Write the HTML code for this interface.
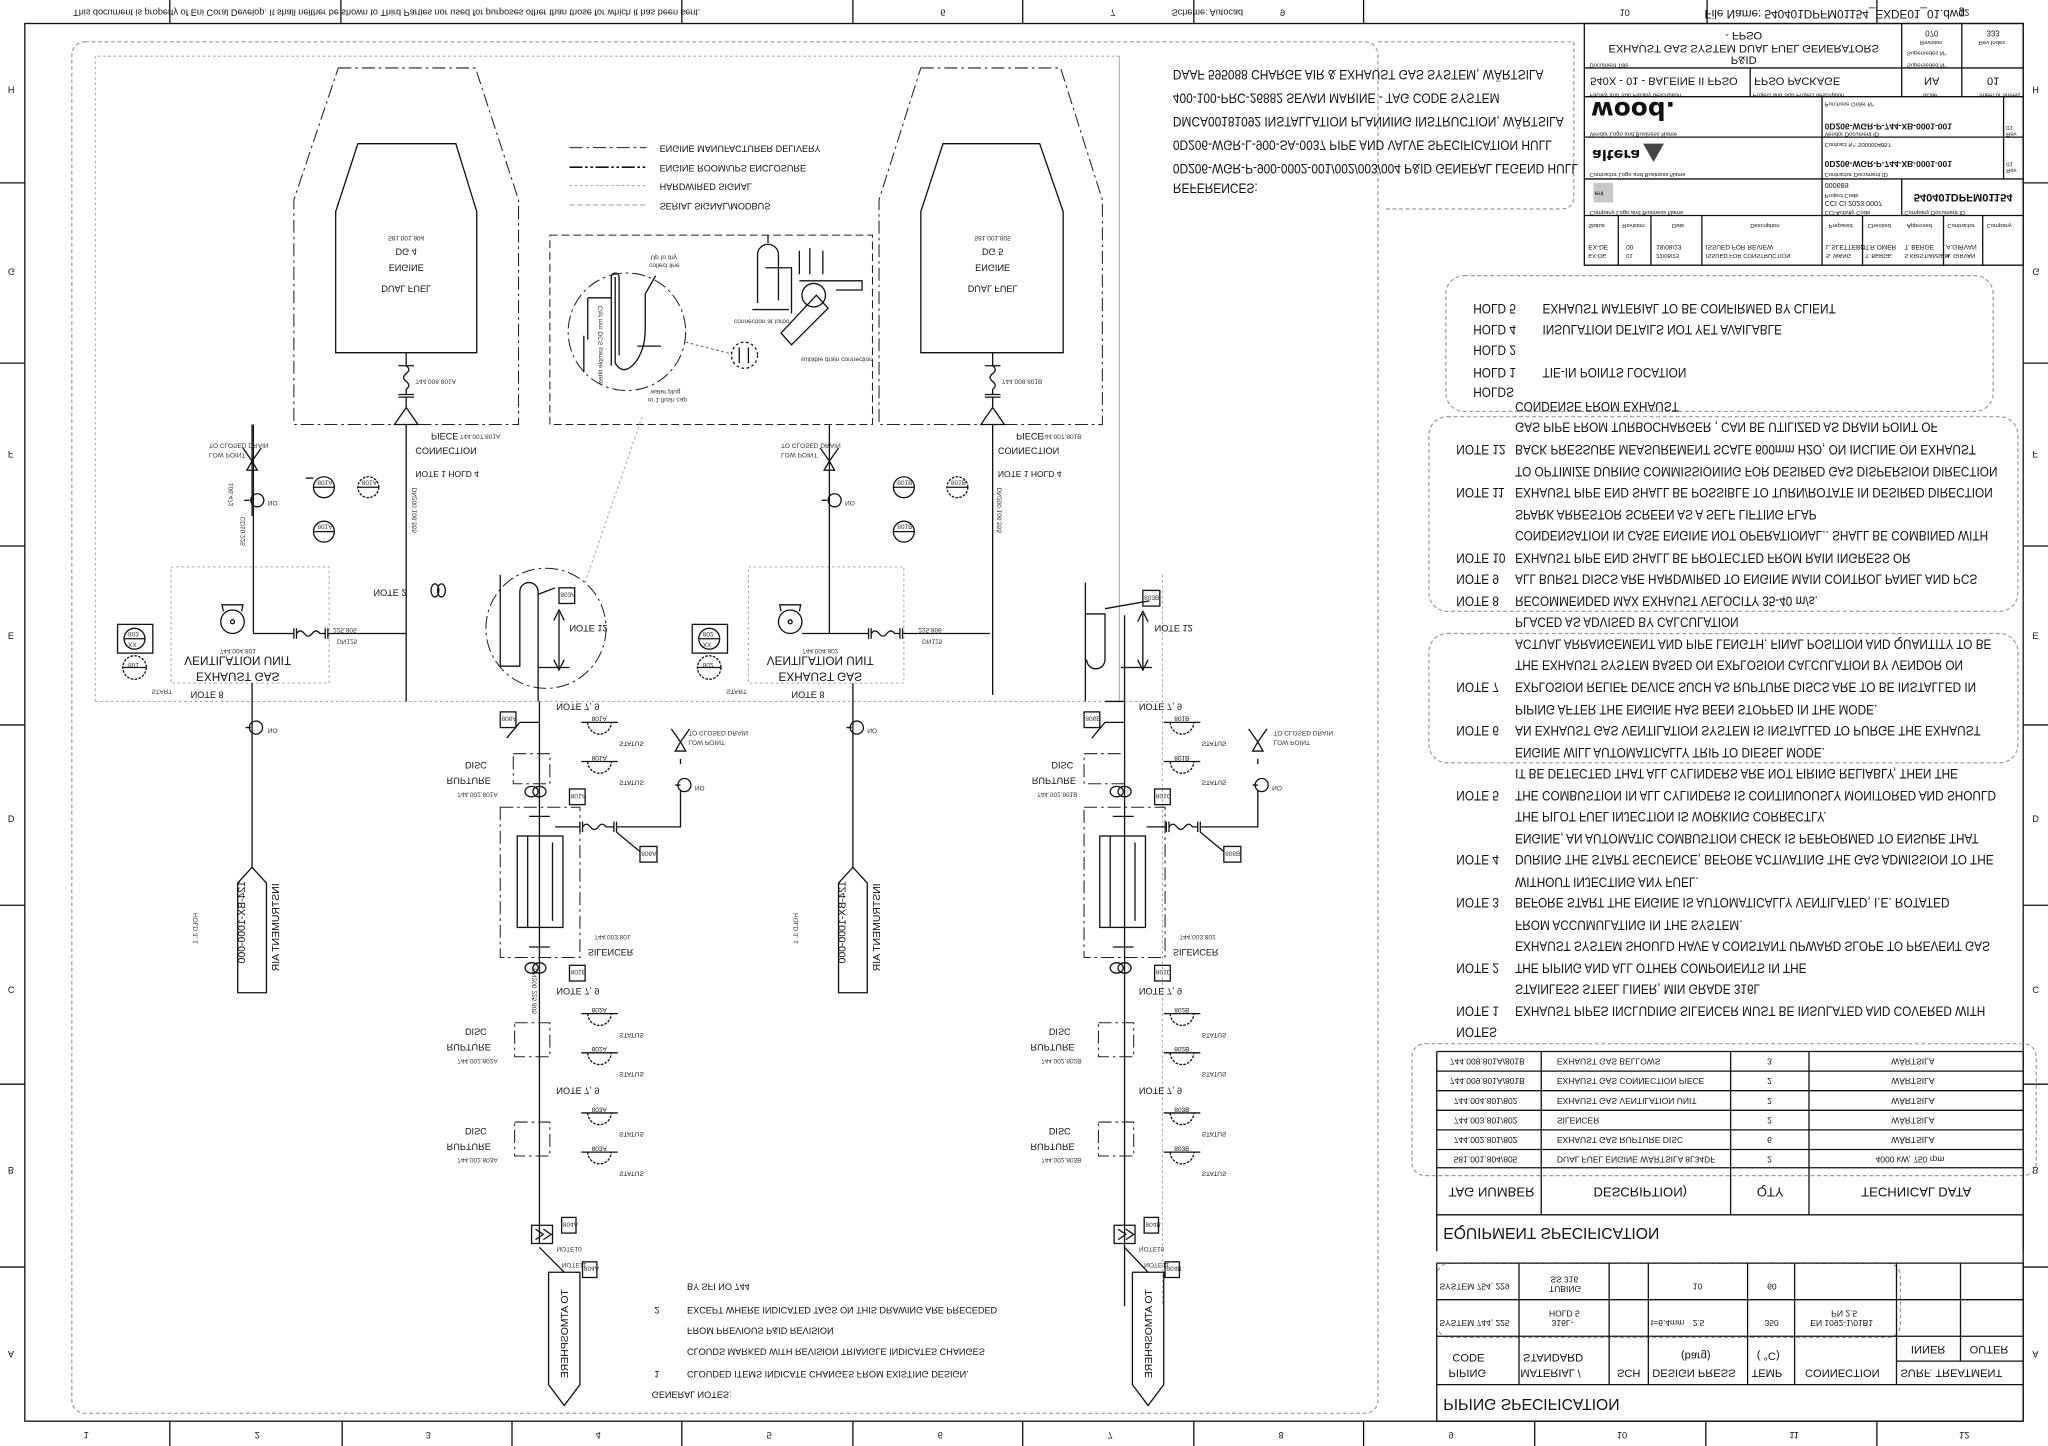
<!DOCTYPE html>
<html><head><meta charset="utf-8">
<style>
html,body{margin:0;padding:0;background:#fff;}
svg{display:block;}
text{font-family:"Liberation Sans",Arial,sans-serif;fill:#111;}
.f{transform-box:fill-box;transform-origin:center;transform:scaleY(-1);}
.fn{transform-box:fill-box;transform-origin:0% 50%;transform:scale(0.86,-1);}
.fr{transform-box:fill-box;transform-origin:0% 50%;transform:scale(0.87,-1);}
.v{transform-box:fill-box;transform-origin:center;transform:rotate(90deg) scaleY(-1);}
.n{font-size:10.5px;}
.s{font-size:5px;fill:#333;}
.m{font-size:7px;}
.l{stroke:#111;stroke-width:1;fill:none;}
.d{stroke:#222;stroke-width:0.8;fill:none;stroke-dasharray:6 3;}
.dd{stroke:#222;stroke-width:0.8;fill:none;stroke-dasharray:10 3 2 3;}
.g{stroke:#aaa;stroke-width:0.8;fill:none;stroke-dasharray:2 2;}
.c{stroke:#999;stroke-width:0.9;fill:none;stroke-dasharray:3 2;}
</style></head><body>
<svg width="2048" height="1446" viewBox="0 0 1568 1107" preserveAspectRatio="none" xmlns="http://www.w3.org/2000/svg">
<rect width="1568" height="1107" fill="#fff"/>
<!-- frame -->
<rect x="19" y="18" width="1530" height="1070" class="l"/>
<g class="l">
<line x1="130" y1="0" x2="130" y2="18"/><line x1="261" y1="0" x2="261" y2="18"/><line x1="522" y1="0" x2="522" y2="18"/><line x1="653" y1="0" x2="653" y2="18"/><line x1="783" y1="0" x2="783" y2="18"/><line x1="914" y1="0" x2="914" y2="18"/><line x1="1044" y1="0" x2="1044" y2="18"/><line x1="1307" y1="0" x2="1307" y2="18"/><line x1="1437" y1="0" x2="1437" y2="18"/>
<line x1="130" y1="1088" x2="130" y2="1107"/><line x1="262" y1="1088" x2="262" y2="1107"/><line x1="392" y1="1088" x2="392" y2="1107"/><line x1="522" y1="1088" x2="522" y2="1107"/><line x1="653" y1="1088" x2="653" y2="1107"/><line x1="783" y1="1088" x2="783" y2="1107"/><line x1="914" y1="1088" x2="914" y2="1107"/><line x1="1044" y1="1088" x2="1044" y2="1107"/><line x1="1175" y1="1088" x2="1175" y2="1107"/><line x1="1306" y1="1088" x2="1306" y2="1107"/><line x1="1437" y1="1088" x2="1437" y2="1107"/>
<line x1="1549" y1="140" x2="1568" y2="140"/><line x1="1549" y1="278" x2="1568" y2="278"/><line x1="1549" y1="418" x2="1568" y2="418"/><line x1="1549" y1="555" x2="1568" y2="555"/><line x1="1549" y1="693" x2="1568" y2="693"/><line x1="1549" y1="830" x2="1568" y2="830"/><line x1="1549" y1="970" x2="1568" y2="970"/>
<line x1="0" y1="140" x2="19" y2="140"/><line x1="0" y1="278" x2="19" y2="278"/><line x1="0" y1="418" x2="19" y2="418"/><line x1="0" y1="555" x2="19" y2="555"/><line x1="0" y1="693" x2="19" y2="693"/><line x1="0" y1="830" x2="19" y2="830"/><line x1="0" y1="970" x2="19" y2="970"/>
</g>
<text class="f m" x="56" y="12">This document is property of Eni Coral Develop. It shall neither be shown to Third Parties nor used for purposes other than those for which it has been sent.</text>
<text class="f m" x="720" y="12">6</text><text class="f m" x="850" y="12">7</text><text class="f m" x="897" y="12">Scheme: Autocad</text><text class="f m" x="980" y="12">9</text><text class="f m" x="1240" y="12">10</text>
<text class="f" x="1305" y="13" font-size="9">File Name: 540401DPFM01154_EXDE01_01.dwg</text><text class="f m" x="1500" y="12">12</text>
<g class="m">
<text class="f" x="64" y="1101">1</text><text class="f" x="195" y="1101">2</text><text class="f" x="326" y="1101">3</text><text class="f" x="456" y="1101">4</text><text class="f" x="587" y="1101">5</text><text class="f" x="718" y="1101">6</text><text class="f" x="848" y="1101">7</text><text class="f" x="979" y="1101">8</text><text class="f" x="1109" y="1101">9</text><text class="f" x="1238" y="1101">10</text><text class="f" x="1370" y="1101">11</text><text class="f" x="1500" y="1101">12</text>
<text class="f" x="1556" y="71">H</text><text class="f" x="1556" y="210">G</text><text class="f" x="1556" y="350">F</text><text class="f" x="1556" y="489">E</text><text class="f" x="1556" y="629">D</text><text class="f" x="1556" y="760">C</text><text class="f" x="1556" y="898">B</text><text class="f" x="1556" y="1039">A</text>
<text class="f" x="6" y="71">H</text><text class="f" x="6" y="210">G</text><text class="f" x="6" y="350">F</text><text class="f" x="6" y="489">E</text><text class="f" x="6" y="629">D</text><text class="f" x="6" y="760">C</text><text class="f" x="6" y="898">B</text><text class="f" x="6" y="1039">A</text>
</g>

<!-- diagram clouds / enclosures -->
<rect x="55" y="32" width="1000" height="1050" rx="10" class="c"/>
<path d="M1055 32 H1205 V150 Q1205 160 1195 160 H1060" class="c"/>
<path d="M73 537 V43 H857 V537 M73 537 H890" class="g"/>
<line x1="857" y1="43" x2="857" y2="537" class="g"/>
<line x1="890" y1="440" x2="890" y2="1000" class="g"/>

<!-- legend -->
<line x1="436" y1="113" x2="495" y2="113" class="dd"/>
<line x1="436" y1="128" x2="495" y2="128" stroke="#111" stroke-width="1.2" stroke-dasharray="10 2 2 2 2 2"/>
<line x1="436" y1="142" x2="495" y2="142" stroke="#aaa" stroke-width="0.8" stroke-dasharray="2 2"/>
<line x1="436" y1="157" x2="495" y2="157" stroke="#aaa" stroke-width="0.8" stroke-dasharray="4 2"/>
<g class="m"><text class="f" x="505" y="116">ENGINE MANUFACTURER DELIVERY</text><text class="f" x="505" y="131">ENGINE ROOM/UPS ENCLOSURE</text><text class="f" x="505" y="145">HARDWIRED SIGNAL</text><text class="f" x="505" y="160">SERIAL SIGNAL/MODBUS</text></g>

<!-- references -->
<g class="n" font-size="9.5"><text class="fr" x="898" y="61">DAAF 595088 CHARGE AIR &amp; EXHAUST GAS SYSTEM, WÄRTSILA</text>
<text class="fr" x="898" y="79">400-100-PRC-26882 SEVAN MARINE - TAG CODE SYSTEM</text>
<text class="fr" x="898" y="97">DMCA00181092 INSTALLATION PLANNING INSTRUCTION, WÄRTSILA</text>
<text class="fr" x="898" y="115">0D206-WGR-L-900-SA-0037 PIPE AND VALVE SPECIFICATION HULL</text>
<text class="fr" x="898" y="133">0D206-WGR-P-900-0002-001/002/003/004 P&amp;ID GENERAL LEGEND HULL</text>
<text class="fr" x="898" y="148">REFERENCES:</text></g>

<!-- DG4 engine -->
<path d="M259 52 H364 L397 153 V325 H225 V153 Z" class="dd"/>
<path d="M274 110 H349 L365 162 V270 H257 V162 Z" class="l"/>
<g class="m" text-anchor="middle" font-size="8.5"><text class="f" x="311" y="223">DUAL FUEL</text><text class="f" x="311" y="207">ENGINE</text><text class="f" x="311" y="195">DG 4</text></g>
<text class="f s" x="311" y="183" text-anchor="middle" font-size="5.5">581.001.804</text>
<path d="M311 270 V280 M305 280 H317 M311 280 q4 3 0 6 q-4 3 0 6 q4 3 0 6 V302 M305 302 H317 M305 304 H317 M311 304 V312 M311 312 L302 325 H320 Z M311 325 V537" class="l"/>
<text class="f s" x="318" y="293" font-size="5.5">744.008.801A</text>
<g class="m"><text class="f" x="330" y="336">PIECE</text><text class="f" x="318" y="347">CONNECTION</text><text class="f s" x="352" y="335" font-size="5.5">744.007.801A</text><text class="f" x="318" y="365" font-size="6.5">NOTE 1   HOLD 4</text></g>
<text class="v s" x="300" y="392" font-size="5.5">DN200 106.555</text>

<!-- DG5 engine -->
<path d="M705 52 H812 L844 153 V325 H673 V153 Z" class="dd"/>
<path d="M722 110 H796 L814 162 V270 H705 V162 Z" class="l"/>
<g class="m" text-anchor="middle" font-size="8.5"><text class="f" x="760" y="223">DUAL FUEL</text><text class="f" x="760" y="207">ENGINE</text><text class="f" x="760" y="195">DG 5</text></g>
<text class="f s" x="760" y="183" text-anchor="middle" font-size="5.5">581.001.805</text>
<path d="M760 270 V280 M754 280 H766 M760 280 q4 3 0 6 q-4 3 0 6 q4 3 0 6 V302 M754 302 H766 M754 304 H766 M760 304 V312 M760 312 L751 325 H769 Z M760 325 V532" class="l"/>
<text class="f s" x="767" y="293" font-size="5.5">744.008.801B</text>
<g class="m"><text class="f" x="778" y="336">PIECE</text><text class="f" x="764" y="347">CONNECTION</text><text class="f s" x="797" y="335" font-size="5.5">744.007.801B</text><text class="f" x="764" y="365" font-size="6.5">NOTE 1   HOLD 4</text></g>
<text class="v s" x="748" y="392" font-size="5.5">DN200 106.555</text>

<!-- detail box -->
<rect x="421" y="180" width="247" height="145" class="d"/>
<circle cx="480" cy="254" r="45" class="dd" stroke-width="0.6"/>
<path d="M468 280 V212 a3 3 0 0 1 6 0 V272 M471 212 V278 q6 10 15 0 q8 -10 8 -26 V225 l8 -14" class="l" stroke-width="1.2"/>
<path d="M450 228 H468 M450 228 V260 M447 257 V285 M488 265 H506" class="l" stroke-width="0.6"/>
<text class="v s" x="430" y="265" font-size="4.5">C/sf mm DCS sample tilted</text>
<text class="f s" x="498" y="198" font-size="4.5">Up to dry</text><text class="f s" x="497" y="204" font-size="4.5">collect line</text>
<text class="f s" x="498" y="301" font-size="4.5">water plug</text><text class="f s" x="496" y="307" font-size="4.5">or 1 flush cap</text>
<line x1="525" y1="262" x2="560" y2="271" stroke="#333" stroke-width="0.6" stroke-dasharray="2 2"/>
<circle cx="570" cy="272" r="10" class="l" stroke-width="0.6" stroke-dasharray="2 2"/>
<path d="M566 266 V278 M573 266 V278" class="l" stroke-width="0.8"/>
<path d="M580 232 V195 a8 8 0 0 1 16 0 V230 M588 186 V180 M586 205 H606 V240 M576 237 H604" class="l" stroke-width="1.2"/>
<path d="M598 255 L625 226 L634 236 L606 264 Z" class="l"/>
<circle cx="623" cy="226" r="9" class="l"/>
<path d="M612 210 V192 M620 210 V190 M630 210 V192 M612 215 H660 M640 215 H660 V222 H640" class="l" stroke-width="1.2"/>
<text class="f s" x="613" y="276" font-size="4.5">suitable drain connection</text>
<text class="f s" x="562" y="247" font-size="4.5">connection at turbo</text>

<!-- loop DG4 -->
<circle cx="418" cy="481" r="46" class="dd" stroke-width="0.6"/>
<line x1="448" y1="446" x2="492" y2="318" class="g" stroke="#555"/>
<path d="M383 440 V510 H398 V453 a7 7 0 0 1 14 0 V537" class="l"/>
<path d="M412 455 L425 450 M428 469 V511 M424 475 L428 467 L432 475 M424 505 L428 513 L432 505 M412 511 H436" class="l" stroke-width="0.8"/>
<rect x="428" y="450" width="12" height="12" class="l" stroke-width="0.6"/><text class="f s" x="429" y="456">803A</text>
<text class="f m" x="436" y="483">NOTE 12</text>
<path d="M333 447 a3 5 0 0 1 0 10 a3 5 0 0 1 0 -10 M338 447 a3 5 0 0 1 0 10 a3 5 0 0 1 0 -10" class="l" stroke-width="0.8"/>
<text class="f m" x="286" y="456">NOTE 2</text>

<!-- loop DG5 -->
<path d="M831 446 V537 M831 470 H846 V505 a7 7 0 0 1 -14 0 M846 470 V470 M861 471 V1000" class="l"/>
<path d="M846 466 L880 460 M875 470 V511 M871 476 L875 468 L879 476 M871 505 L875 513 L879 505 M858 511 H882" class="l" stroke-width="0.8"/>
<rect x="875" y="452" width="13" height="12" class="l" stroke-width="0.6"/><text class="f s" x="876" y="458">803B</text>
<text class="f m" x="884" y="483">NOTE 12</text>

<!-- vent unit DG4 -->
<rect x="131" y="434" width="121" height="89" class="g" stroke="#777"/>
<circle cx="178" cy="476" r="9" class="l"/><circle cx="178" cy="476" r="1.5" class="l"/>
<path d="M171 468 L170 463 H186 L185 468" class="l"/>
<path d="M194 485 H225 M225 481 V489 M227 481 V489 M227 485 q3 -4 6 0 q3 4 6 0 q3 -4 6 0 L249 485 M249 481 V489 M251 481 V489 M251 485 H311 M194 485 V325" class="l"/>
<text class="f s" x="255" y="483">225.805</text><text class="f s" x="258" y="492">DN125</text>
<g class="m" text-anchor="middle"><text class="f" x="182" y="520" font-size="9">EXHAUST GAS</text><text class="f" x="182" y="508" font-size="9">VENTILATION UNIT</text></g>
<text class="f s" x="182" y="499" text-anchor="middle" font-size="5.5">744.004.801</text>
<g class="l" stroke-width="0.7"><rect x="90" y="478" width="27" height="22"/><circle cx="103" cy="489" r="8"/><line x1="95" y1="489" x2="111" y2="489"/><circle cx="103" cy="511" r="9" stroke-dasharray="2 1"/><line x1="94" y1="511" x2="112" y2="511"/></g>
<text class="f s" x="98" y="486">803</text><text class="f s" x="98" y="494">XX</text><text class="f s" x="98" y="510">801</text>
<text class="f s" x="116" y="530" font-size="5">START</text><text class="f m" x="146" y="534" font-size="6.5">NOTE 8</text>
<path d="M193 325 V395 M187 383 H191 M193 371 V375 M189 360 L193 353 L197 360 Z M186 343 L193 353 L200 343" class="l"/>
<circle cx="197" cy="383" r="5" class="l"/>
<text class="f s" x="205" y="386" font-size="6">NO</text>
<text class="f s" x="160" y="342" font-size="6">TO CLOSED DRAIN</text><text class="f s" x="160" y="349" font-size="6">LOW POINT</text>
<text class="v s" x="168" y="380" font-size="5">106.472</text><text class="v s" x="175" y="408" font-size="5">CD10 225</text>
<g class="l" stroke-width="0.7"><circle cx="248" cy="373" r="8"/><line x1="240" y1="373" x2="256" y2="373"/><circle cx="248" cy="407" r="8"/><line x1="240" y1="407" x2="256" y2="407"/><circle cx="282" cy="373" r="8" stroke-dasharray="2 1"/><line x1="274" y1="373" x2="290" y2="373"/><line x1="234" y1="366" x2="240" y2="366"/></g>
<text class="f s" x="243" y="370">801A</text><text class="f s" x="243" y="404">801A</text><text class="f s" x="277" y="370">801A</text>
<path d="M193 523 V664 M188 557 H192" class="l"/><circle cx="196" cy="557" r="5" class="l"/>
<text class="f s" x="205" y="560" font-size="6">NO</text>
<path d="M182 760 V676 L193 664 L204 676 V760 Z" class="l"/>
<text class="v" x="154" y="708" font-size="8">124-BX-1000-000</text>
<text class="v" x="178" y="712" font-size="8">INSTRUMENT AIR</text>
<text class="v s" x="138" y="712" font-size="6">HOLD 3, 1</text>

<!-- vent unit DG5 -->
<rect x="573" y="434" width="119" height="89" class="g" stroke="#777"/>
<circle cx="605" cy="476" r="9" class="l"/><circle cx="605" cy="476" r="1.5" class="l"/>
<path d="M598 468 L597 463 H613 L612 468" class="l"/>
<path d="M614 485 H665 M665 481 V489 M667 481 V489 M667 485 q3 -4 6 0 q3 4 6 0 q3 -4 6 0 L689 485 M689 481 V489 M691 481 V489 M691 485 H758 M635 485 V395" class="l"/>
<text class="f s" x="703" y="483">225.806</text><text class="f s" x="706" y="492">DN125</text>
<g class="m" text-anchor="middle"><text class="f" x="628" y="520" font-size="9">EXHAUST GAS</text><text class="f" x="628" y="508" font-size="9">VENTILATION UNIT</text></g>
<text class="f s" x="628" y="499" text-anchor="middle" font-size="5.5">744.004.802</text>
<g class="l" stroke-width="0.7"><rect x="530" y="478" width="27" height="22"/><circle cx="543" cy="489" r="8"/><line x1="535" y1="489" x2="551" y2="489"/><circle cx="543" cy="511" r="9" stroke-dasharray="2 1"/><line x1="534" y1="511" x2="552" y2="511"/></g>
<text class="f s" x="538" y="486">802</text><text class="f s" x="538" y="494">XX</text><text class="f s" x="538" y="510">802</text>
<text class="f s" x="556" y="530" font-size="5">START</text><text class="f m" x="606" y="534" font-size="6.5">NOTE 8</text>
<path d="M635 325 V395 M629 383 H633 M635 371 V375 M631 360 L635 353 L639 360 Z M628 343 L635 353 L642 343" class="l"/>
<circle cx="639" cy="383" r="5" class="l"/><text class="f s" x="647" y="386" font-size="6">NO</text>
<text class="f s" x="598" y="342" font-size="6">TO CLOSED DRAIN</text><text class="f s" x="598" y="349" font-size="6">LOW POINT</text>
<g class="l" stroke-width="0.7"><circle cx="692" cy="373" r="8"/><line x1="684" y1="373" x2="700" y2="373"/><circle cx="692" cy="407" r="8"/><line x1="684" y1="407" x2="700" y2="407"/><circle cx="733" cy="373" r="8" stroke-dasharray="2 1"/><line x1="725" y1="373" x2="741" y2="373"/></g>
<text class="f s" x="687" y="370">801B</text><text class="f s" x="687" y="404">801B</text><text class="f s" x="728" y="370">801B</text>
<path d="M653 523 V664 M648 557 H652" class="l"/><circle cx="656" cy="557" r="5" class="l"/><text class="f s" x="664" y="560" font-size="6">NO</text>
<path d="M642 760 V676 L653 664 L664 676 V760 Z" class="l"/>
<text class="v" x="614" y="708" font-size="8">124-BX-1000-000</text>
<text class="v" x="638" y="712" font-size="8">INSTRUMENT AIR</text>
<text class="v s" x="598" y="712" font-size="6">HOLD 3, 1</text>

<!-- DG4 main line -->
<path d="M413 537 V952 M413 955 L432 974" class="l"/>
<path d="M398 553 H413 M398 553 L388 565" class="l" stroke-width="0.7"/>
<text class="f m" x="426" y="543" font-size="6.5">NOTE 7, 9</text>
<rect x="393" y="577" width="28" height="23" class="dd"/>
<text class="f m" x="356" y="588" font-size="8">DISC</text><text class="f m" x="342" y="600" font-size="8">RUPTURE</text>
<text class="f s" x="350" y="609" font-size="5.5">744.002.801A</text>
<path d="M407 602 a5 4 0 0 1 0 8 a5 4 0 0 1 0 -8 M413 602 a5 4 0 0 1 0 8 a5 4 0 0 1 0 -8 M407 737 a5 4 0 0 1 0 8 a5 4 0 0 1 0 -8 M413 737 a5 4 0 0 1 0 8 a5 4 0 0 1 0 -8" class="l" stroke-width="0.8"/>
<rect x="383" y="618" width="61" height="115" class="dd"/>
<rect x="396" y="640" width="35" height="70" class="l"/>
<path d="M404 640 V710 M423 645 V705 M405 625 H421 M405 725 H421" class="l" stroke-width="0.7"/>
<text class="f m" x="450" y="731" font-size="9">SILENCER</text><text class="f s" x="455" y="718" font-size="5.5">744.003.801</text>
<path d="M425 633 H444 M444 629 V637 M446 629 V637 M446 633 q3 -4 6 0 q3 4 6 0 q3 -4 6 0 L470 633 M470 629 V637 M472 629 V637 M472 633 H521 V605 M517 601 H521 M521 581 V585 M517 575 L521 568 L525 575 Z M514 558 L521 568 L528 558 M472 637 L490 652" class="l"/>
<circle cx="524" cy="601" r="5" class="l"/><text class="f s" x="532" y="604" font-size="6">NO</text>
<text class="f s" x="527" y="562" font-size="6">TO CLOSED DRAIN</text><text class="f s" x="527" y="569" font-size="6">LOW POINT</text>
<rect x="490" y="648" width="13" height="12" class="l" stroke-width="0.6"/><text class="f s" x="491" y="654">806A</text>
<rect x="436" y="604" width="12" height="12" class="l" stroke-width="0.6"/><text class="f s" x="437" y="610">801A</text>
<rect x="436" y="739" width="12" height="12" class="l" stroke-width="0.6"/><text class="f s" x="437" y="745">801B</text>
<rect x="383" y="545" width="12" height="12" class="l" stroke-width="0.6"/><text class="f s" x="384" y="551">806A</text>
<text class="f m" x="426" y="761" font-size="6.5">NOTE 7, 9</text>
<text class="v s" x="392" y="760" font-size="5">DN200 225.805</text>
<rect x="394" y="783" width="27" height="26" class="dd" stroke="#888"/>
<rect x="394" y="859" width="27" height="26" class="dd" stroke="#aaa"/>
<text class="f m" x="356" y="792" font-size="8">DISC</text><text class="f m" x="342" y="804" font-size="8">RUPTURE</text><text class="f s" x="350" y="813" font-size="5">744.002.802A</text>
<text class="f m" x="356" y="868" font-size="8">DISC</text><text class="f m" x="342" y="880" font-size="8">RUPTURE</text><text class="f s" x="350" y="889" font-size="5">744.002.803A</text>
<text class="f m" x="426" y="837" font-size="6.5">NOTE 7, 9</text>
<path d="M407 938 h16 v14 h-16 z M410 941 l6 4 l-6 4 M416 941 l6 4 l-6 4" class="l" stroke-width="0.8"/>
<text class="f s" x="426" y="957" font-size="5.5">NOTE10</text><text class="f s" x="430" y="969" font-size="5.5">NOTE11</text>
<rect x="430" y="932" width="11" height="12" class="l" stroke-width="0.6"/><text class="f s" x="431" y="938">804A</text>
<rect x="446" y="966" width="11" height="12" class="l" stroke-width="0.6"/><text class="f s" x="447" y="972">804A</text>
<path d="M420 974 H444 V1060 L432 1076 L420 1060 Z" class="l"/>
<text class="v" x="399" y="1023" font-size="8">TO ATMOSPHERE</text>

<!-- DG5 main line -->
<path d="M846 537 H861 M846 553 H861 M846 553 L836 565 M861 955 L879 974" class="l" stroke-width="0.8"/>
<text class="f m" x="872" y="543" font-size="6.5">NOTE 7, 9</text>
<rect x="830" y="577" width="31" height="23" class="dd"/>
<text class="f m" x="805" y="588" font-size="8">DISC</text><text class="f m" x="790" y="600" font-size="8">RUPTURE</text>
<text class="f s" x="794" y="609" font-size="5.5">744.002.801B</text>
<path d="M855 602 a5 4 0 0 1 0 8 a5 4 0 0 1 0 -8 M861 602 a5 4 0 0 1 0 8 a5 4 0 0 1 0 -8 M855 737 a5 4 0 0 1 0 8 a5 4 0 0 1 0 -8 M861 737 a5 4 0 0 1 0 8 a5 4 0 0 1 0 -8" class="l" stroke-width="0.8"/>
<rect x="830" y="618" width="62" height="115" class="dd" stroke="#999"/>
<rect x="842" y="640" width="35" height="70" class="l"/>
<path d="M850 640 V710 M869 645 V705 M852 625 H868 M852 725 H868" class="l" stroke-width="0.7"/>
<text class="f m" x="898" y="731" font-size="9">SILENCER</text><text class="f s" x="903" y="718" font-size="5.5">744.003.802</text>
<path d="M878 633 H893 M893 629 V637 M895 629 V637 M895 633 q3 -4 6 0 q3 4 6 0 q3 -4 6 0 L917 633 M917 629 V637 M919 629 V637 M919 633 H963 V605 M959 601 H963 M963 581 V585 M959 575 L963 568 L967 575 Z M956 558 L963 568 L970 558 M919 637 L937 652" class="l"/>
<circle cx="966" cy="601" r="5" class="l"/><text class="f s" x="974" y="604" font-size="6">NO</text>
<text class="f s" x="975" y="562" font-size="6">TO CLOSED DRAIN</text><text class="f s" x="975" y="569" font-size="6">LOW POINT</text>
<rect x="937" y="648" width="13" height="12" class="l" stroke-width="0.6"/><text class="f s" x="938" y="654">806B</text>
<rect x="830" y="545" width="12" height="12" class="l" stroke-width="0.6"/><text class="f s" x="831" y="551">806B</text>
<rect x="884" y="604" width="12" height="12" class="l" stroke-width="0.6"/><text class="f s" x="885" y="610">801C</text>
<rect x="884" y="739" width="12" height="12" class="l" stroke-width="0.6"/><text class="f s" x="885" y="745">801D</text>
<text class="f m" x="872" y="761" font-size="6.5">NOTE 7, 9</text>
<rect x="841" y="783" width="27" height="26" class="dd" stroke="#888"/>
<rect x="841" y="859" width="27" height="26" class="dd" stroke="#aaa"/>
<text class="f m" x="803" y="792" font-size="8">DISC</text><text class="f m" x="789" y="804" font-size="8">RUPTURE</text><text class="f s" x="797" y="813" font-size="5">744.002.802B</text>
<text class="f m" x="803" y="868" font-size="8">DISC</text><text class="f m" x="789" y="880" font-size="8">RUPTURE</text><text class="f s" x="797" y="889" font-size="5">744.002.803B</text>
<text class="f m" x="872" y="837" font-size="6.5">NOTE 7, 9</text>
<path d="M853 938 h16 v14 h-16 z M856 941 l6 4 l-6 4 M862 941 l6 4 l-6 4" class="l" stroke-width="0.8"/>
<text class="f s" x="872" y="957" font-size="5.5">NOTE10</text><text class="f s" x="876" y="969" font-size="5.5">NOTE11</text>
<rect x="876" y="932" width="11" height="12" class="l" stroke-width="0.6"/><text class="f s" x="877" y="938">804B</text>
<rect x="892" y="966" width="11" height="12" class="l" stroke-width="0.6"/><text class="f s" x="893" y="972">804B</text>
<path d="M867 974 H891 V1060 L879 1076 L867 1060 Z" class="l"/>
<text class="v" x="846" y="1023" font-size="8">TO ATMOSPHERE</text>

<!-- STATUS bubbles -->
<g class="l" stroke-width="0.7">
<path d="M445 553 H473 M445 583 H473 M445 776 H473 M445 806 H473 M445 852 H473 M445 882 H473 M891 553 H919 M891 583 H919 M891 776 H919 M891 806 H919 M891 852 H919 M891 882 H919"/>
<path d="M450 553 a9 9 0 0 0 18 0 M450 583 a9 9 0 0 0 18 0 M450 776 a9 9 0 0 0 18 0 M450 806 a9 9 0 0 0 18 0 M450 852 a9 9 0 0 0 18 0 M450 882 a9 9 0 0 0 18 0 M896 553 a9 9 0 0 0 18 0 M896 583 a9 9 0 0 0 18 0 M896 776 a9 9 0 0 0 18 0 M896 806 a9 9 0 0 0 18 0 M896 852 a9 9 0 0 0 18 0 M896 882 a9 9 0 0 0 18 0" stroke-dasharray="2 1"/>
</g>
<g class="s" font-size="5.5">
<text class="f" x="474" y="570">STATUS</text><text class="f" x="474" y="600">STATUS</text><text class="f" x="474" y="793">STATUS</text><text class="f" x="474" y="823">STATUS</text><text class="f" x="474" y="869">STATUS</text><text class="f" x="474" y="899">STATUS</text>
<text class="f" x="920" y="570">STATUS</text><text class="f" x="920" y="600">STATUS</text><text class="f" x="920" y="793">STATUS</text><text class="f" x="920" y="823">STATUS</text><text class="f" x="920" y="869">STATUS</text><text class="f" x="920" y="899">STATUS</text>
<text class="f" x="453" y="551">801A</text><text class="f" x="453" y="581">801A</text><text class="f" x="453" y="774">802A</text><text class="f" x="453" y="804">802A</text><text class="f" x="453" y="850">803A</text><text class="f" x="453" y="880">803A</text>
<text class="f" x="899" y="551">801B</text><text class="f" x="899" y="581">801B</text><text class="f" x="899" y="774">802B</text><text class="f" x="899" y="804">802B</text><text class="f" x="899" y="850">803B</text><text class="f" x="899" y="880">803B</text>
</g>

<!-- general notes -->
<g class="m" font-size="7.5">
<text class="f" x="526" y="987">BY SFI NO 744</text>
<text class="f" x="501" y="1005">2</text><text class="f" x="526" y="1005">EXCEPT WHERE INDICATED TAGS ON THIS DRAWING ARE PRECEDED</text>
<text class="f" x="526" y="1021">FROM PREVIOUS P&amp;ID REVISION</text>
<text class="f" x="526" y="1037">CLOUDS MARKED WITH REVISION TRIANGLE INDICATES CHANGES</text>
<text class="f" x="501" y="1054">1</text><text class="f" x="526" y="1054">CLOUDED ITEMS INDICATE CHANGES FROM EXISTING DESIGN.</text>
<text class="f" x="499" y="1070">GENERAL NOTES:</text>
</g>

<!-- notes clouds -->
<rect x="1107" y="211" width="419" height="104" rx="14" class="c"/>
<rect x="1094" y="319" width="451" height="149" rx="14" class="c"/>
<rect x="1094" y="485" width="451" height="99" rx="14" class="c"/>
<g class="n">
<text class="fn" x="1128" y="240">HOLD 5</text><text class="fn" x="1181" y="240">EXHAUST MATERIAL TO BE CONFIRMED BY CLIENT</text>
<text class="fn" x="1128" y="256">HOLD 4</text><text class="fn" x="1181" y="256">INSULATION DETAILS NOT YET AVAILABLE</text>
<text class="fn" x="1128" y="272">HOLD 2</text>
<text class="fn" x="1128" y="289">HOLD 1</text><text class="fn" x="1181" y="289">TIE-IN POINTS LOCATION</text>
<text class="fn" x="1128" y="304">HOLDS</text>
<text class="fn" x="1160" y="315">CONDENSE FROM EXHAUST</text>
<text class="fn" x="1160" y="331">GAS PIPE FROM TURBOCHARGER , CAN BE UTILIZED AS DRAIN POINT OF</text>
<text class="fn" x="1115" y="348">NOTE 12</text><text class="fn" x="1160" y="348">BACK PRESSURE MEASUREMENT SCALE 600mm H2O, ON INCLINE ON EXHAUST</text>
<text class="fn" x="1160" y="365">TO OPTIMIZE DURING COMMISSIONING FOR DESIRED GAS DISPERSION DIRECTION</text>
<text class="fn" x="1115" y="381">NOTE 11</text><text class="fn" x="1160" y="381">EXHAUST PIPE END SHALL BE POSSIBLE TO TURN/ROTATE IN DESIRED DIRECTION</text>
<text class="fn" x="1160" y="398">SPARK ARRESTOR SCREEN AS A SELF LIFTING FLAP</text>
<text class="fn" x="1160" y="414">CONDENSATION IN CASE ENGINE NOT OPERATIONAL.. SHALL BE COMBINED WITH</text>
<text class="fn" x="1115" y="431">NOTE 10</text><text class="fn" x="1160" y="431">EXHAUST PIPE END SHALL BE PROTECTED FROM RAIN INGRESS OR</text>
<text class="fn" x="1115" y="447">NOTE 9</text><text class="fn" x="1160" y="447">ALL BURST DISCS ARE HARDWIRED TO ENGINE MAIN CONTROL PANEL AND PCS</text>
<text class="fn" x="1115" y="464">NOTE 8</text><text class="fn" x="1160" y="464">RECOMMENDED MAX EXHAUST VELOCITY 35-40 m/s.</text>
<text class="fn" x="1160" y="480">PLACED AS ADVISED BY CALCULATION</text>
<text class="fn" x="1160" y="497">ACTUAL ARRANGEMENT AND PIPE LENGTH. FINAL POSITION AND QUANTITY TO BE</text>
<text class="fn" x="1160" y="513">THE EXHAUST SYSTEM BASED ON EXPLOSION CALCULATION BY VENDOR ON</text>
<text class="fn" x="1115" y="530">NOTE 7</text><text class="fn" x="1160" y="530">EXPLOSION RELIEF DEVICE SUCH AS RUPTURE DISCS ARE TO BE INSTALLED IN</text>
<text class="fn" x="1160" y="547">PIPING AFTER THE ENGINE HAS BEEN STOPPED IN THE MODE.</text>
<text class="fn" x="1115" y="563">NOTE 6</text><text class="fn" x="1160" y="563">AN EXHAUST GAS VENTILATION SYSTEM IS INSTALLED TO PURGE THE EXHAUST</text>
<text class="fn" x="1160" y="580">ENGINE WILL AUTOMATICALLY TRIP TO DIESEL MODE.</text>
<text class="fn" x="1160" y="596">IT BE DETECTED THAT ALL CYLINDERS ARE NOT FIRING RELIABLY, THEN THE</text>
<text class="fn" x="1115" y="613">NOTE 5</text><text class="fn" x="1160" y="613">THE COMBUSTION IN ALL CYLINDERS IS CONTINUOUSLY MONITORED AND SHOULD</text>
<text class="fn" x="1160" y="629">THE PILOT FUEL INJECTION IS WORKING CORRECTLY.</text>
<text class="fn" x="1160" y="646">ENGINE, AN AUTOMATIC COMBUSTION CHECK IS PERFORMED TO ENSURE THAT</text>
<text class="fn" x="1115" y="662">NOTE 4</text><text class="fn" x="1160" y="662">DURING THE START SECUENCE, BEFORE ACTIVATING THE GAS ADMISSION TO THE</text>
<text class="fn" x="1160" y="679">WITHOUT INJECTING ANY FUEL.</text>
<text class="fn" x="1115" y="695">NOTE 3</text><text class="fn" x="1160" y="695">BEFORE START THE ENGINE IS AUTOMATICALLY VENTILATED, I.E. ROTATED</text>
<text class="fn" x="1160" y="712">FROM ACCUMULATING IN THE SYSTEM.</text>
<text class="fn" x="1160" y="728">EXHAUST SYSTEM SHOULD HAVE A CONSTANT UPWARD SLOPE TO PREVENT GAS</text>
<text class="fn" x="1115" y="745">NOTE 2</text><text class="fn" x="1160" y="745">THE PIPING AND ALL OTHER COMPONENTS IN THE</text>
<text class="fn" x="1160" y="761">STAINLESS STEEL LINER, MIN GRADE 316L</text>
<text class="fn" x="1115" y="778">NOTE 1</text><text class="fn" x="1160" y="778">EXHAUST PIPES INCLUDING SILENCER MUST BE INSULATED AND COVERED WITH</text>
<text class="fn" x="1115" y="794">NOTES</text>
</g>

<!-- equipment spec -->
<rect x="1081" y="799" width="478" height="101" rx="10" class="c"/>
<g class="l">
<path d="M1100 805 H1549 M1100 820 H1549 M1100 835 H1549 M1100 850 H1549 M1100 865 H1549 M1100 880 H1549 M1100 894 H1549 M1100 930 H1549 M1100 805 V958 M1549 805 V958 M1180 805 V930 M1325 805 V930 M1385 805 V930"/>
</g>
<g font-size="6.5">
<text class="f" x="1110" y="815">744.008.801A/801B</text><text class="f" x="1192" y="815">EXHAUST GAS BELLOWS</text><text class="f" x="1353" y="815">3</text><text class="f" x="1448" y="815">WÄRTSILA</text>
<text class="f" x="1110" y="830">744.009.801A/801B</text><text class="f" x="1192" y="830">EXHAUST GAS CONNECTION PIECE</text><text class="f" x="1353" y="830">2</text><text class="f" x="1448" y="830">WÄRTSILA</text>
<text class="f" x="1113" y="845">744.004.801/802</text><text class="f" x="1192" y="845">EXHAUST GAS VENTILATION UNIT</text><text class="f" x="1353" y="845">2</text><text class="f" x="1448" y="845">WÄRTSILA</text>
<text class="f" x="1113" y="860">744.003.801/802</text><text class="f" x="1192" y="860">SILENCER</text><text class="f" x="1353" y="860">2</text><text class="f" x="1448" y="860">WÄRTSILA</text>
<text class="f" x="1113" y="875">744.002.801/802</text><text class="f" x="1192" y="875">EXHAUST GAS RUPTURE DISC</text><text class="f" x="1353" y="875">6</text><text class="f" x="1448" y="875">WÄRTSILA</text>
<text class="f" x="1113" y="890">581.001.804/805</text><text class="f" x="1192" y="890">DUAL FUEL ENGINE WÄRTSILA 8L34DF</text><text class="f" x="1353" y="890">2</text><text class="f" x="1436" y="890">4000 kW, 750 rpm</text>
</g>
<g font-size="10"><text class="f" x="1109" y="916">TAG NUMBER</text><text class="f" x="1220" y="916">DESCRIPTION)</text><text class="f" x="1345" y="916">QTY</text><text class="f" x="1425" y="916">TECHNICAL DATA</text></g>
<text class="f" x="1105" y="947" font-size="12">EQUIPMENT SPECIFICATION</text>

<!-- piping spec -->
<rect x="1100" y="967" width="355" height="57" rx="10" class="c"/>
<g class="l"><path d="M1100 967 H1549 M1100 995 H1549 M1100 1023 H1549 M1452 1042 H1549 M1100 1060 H1549 M1100 1088 H1549 M1100 967 V1088 M1549 967 V1088 M1163 967 V1060 M1232 967 V1060 M1262 967 V1060 M1338 967 V1060 M1374 967 V1060 M1452 967 V1060 M1501 967 V1042"/></g>
<g font-size="6.5">
<text class="f" x="1102" y="987">SYSTEM 754, 229</text><text class="f" x="1187" y="982">SS 316</text><text class="f" x="1186" y="989">TUBING</text><text class="f" x="1296" y="987">10</text><text class="f" x="1353" y="987">60</text>
<text class="f" x="1102" y="1015">SYSTEM 744, 225</text><text class="f" x="1186" y="1008">HOLD 5</text><text class="f" x="1188" y="1015">316L-</text><text class="f" x="1264" y="1015">t=6.4mm</text><text class="f" x="1296" y="1015">2.5</text><text class="f" x="1351" y="1015">350</text><text class="f" x="1402" y="1008">PN 2.5</text><text class="f" x="1386" y="1015">EN 1092-1/01B1</text>
</g>
<g font-size="8.5">
<text class="f" x="1112" y="1041">CODE</text><text class="f" x="1109" y="1053">PIPING</text><text class="f" x="1166" y="1041">STANDARD</text><text class="f" x="1164" y="1053">MATERIAL /</text><text class="f" x="1238" y="1053">SCH</text><text class="f" x="1287" y="1040">(barg)</text><text class="f" x="1265" y="1053">DESIGN PRESS</text><text class="f" x="1345" y="1040">( °C)</text><text class="f" x="1341" y="1053">TEMP</text><text class="f" x="1382" y="1053">CONNECTION</text><text class="f" x="1463" y="1035">INNER</text><text class="f" x="1508" y="1035">OUTER</text><text class="f" x="1455" y="1053">SURF. TREATMENT</text>
</g>
<text class="f" x="1105" y="1078" font-size="12">PIPING SPECIFICATION</text>

<!-- title block -->
<g class="l"><path d="M1213 18 H1549 V203 H1213 Z M1213 52 H1549 M1213 74 H1549 M1395 74 V165 M1395 105 H1549 M1213 105 H1395 M1213 137 H1549 M1534 74 V137 M1213 165 H1549 M1456 18 V74 M1502 18 V74 M1340 52 V74 M1456 137 V165 M1239 165 V203 M1264 165 V203 M1303 165 V203 M1426 165 V203 M1488 165 V203 M1518 165 V203 M1395 165 V203"/></g>
<g font-size="8.5" text-anchor="middle">
<text class="f" x="1335" y="29">- FPSO</text><text class="f" x="1335" y="39">EXHAUST GAS SYSTEM DUAL FUEL GENERATORS</text><text class="f" x="1335" y="48">P&amp;ID</text>
<text class="f" x="1274" y="64">540X - 01 - BALEINE II FPSO</text><text class="f" x="1376" y="64">FPSO PACKAGE</text><text class="f" x="1479" y="64">NA</text><text class="f" x="1526" y="64">01</text>
<text class="f" x="1479" y="27" font-size="6">070</text><text class="f" x="1526" y="27" font-size="6">333</text>
<text class="f" x="1503" y="153" font-weight="bold">540401DPFM01154</text>
</g>
<g font-size="4.5" fill="#444">
<text class="f" x="1217" y="50">Document Title</text><text class="f" x="1460" y="41">Supersedes N°</text><text class="f" x="1460" y="50">Superseded N°</text><text class="f" x="1470" y="33">Revision</text><text class="f" x="1515" y="33">Rev Index</text>
<text class="f" x="1217" y="73">Facility and Sub Facility description</text><text class="f" x="1342" y="73">Project and Sub Project description</text><text class="f" x="1472" y="73">Scale</text><text class="f" x="1515" y="73">Sheet of Sheets</text>
<text class="f" x="1217" y="103">Vendor Logo and Business Name</text><text class="f" x="1397" y="80">Purchase Order N°</text><text class="f" x="1397" y="103">Vendor Document ID</text>
<text class="f" x="1397" y="111">Contract N°: 5000004857</text><text class="f" x="1397" y="134">Contractor Document ID</text><text class="f" x="1217" y="134">Contractor Logo and Business Name</text>
<text class="f" x="1217" y="163">Company Logo and Business Name</text><text class="f" x="1397" y="150">Project Code</text><text class="f" x="1397" y="163">CCI Activity Code</text><text class="f" x="1458" y="163">Company Document ID</text>
<text class="f" x="1536" y="98">01</text><text class="f" x="1536" y="103">Rev</text><text class="f" x="1536" y="126">01</text><text class="f" x="1536" y="131">Rev</text>
<text class="f" x="1216" y="173">Status</text><text class="f" x="1242" y="173">Revision</text><text class="f" x="1280" y="173">Date</text><text class="f" x="1340" y="173">Description</text><text class="f" x="1400" y="173">Prepared</text><text class="f" x="1430" y="173">Checked</text><text class="f" x="1460" y="173">Approved</text><text class="f" x="1491" y="173">Contractor</text><text class="f" x="1521" y="173">Company</text>
<text class="f" x="1216" y="196">EX-DE</text><text class="f" x="1245" y="196">01</text><text class="f" x="1268" y="196">22/08/23</text><text class="f" x="1306" y="196">ISSUED FOR CONSTRUCTION</text><text class="f" x="1398" y="196">S. WANG</text><text class="f" x="1428" y="196">T. BERGE</text><text class="f" x="1458" y="196">S.KRISTIANSEN</text><text class="f" x="1490" y="196">A. GIRVAN</text>
</g>
<g font-size="6.5">
<text class="f" x="1397" y="99" font-weight="bold">0D206-WGR-P-744-XB-0001-001</text><text class="f" x="1397" y="128" font-weight="bold">0D206-WGR-P-744-XB-0001-001</text>
<text class="f" x="1397" y="143" font-size="5.5">000689</text><text class="f" x="1397" y="157" font-size="5.5">CCI CI 2023 0007</text>
<text class="f" x="1216" y="190" font-size="5">EX-DE</text><text class="f" x="1245" y="190" font-size="5">00</text><text class="f" x="1268" y="190" font-size="5">18/08/23</text><text class="f" x="1306" y="190" font-size="5">ISSUED FOR REVIEW</text><text class="f" x="1398" y="190" font-size="5">L.SLETTEBØ</text><text class="f" x="1428" y="190" font-size="5">T.R.OMER</text><text class="f" x="1458" y="190" font-size="5">T. BERGE</text><text class="f" x="1490" y="190" font-size="5">A.GIRVAN</text>
</g>
<text class="f" x="1218" y="91" font-size="19" font-weight="bold" style="font-family:'DejaVu Sans',sans-serif">wood.</text>
<text class="f" x="1219" y="121" font-size="11" font-weight="bold" fill="#444" style="font-family:'DejaVu Sans',sans-serif">altera</text>
<path d="M1258 110 H1274 L1266 124 Z" fill="#444"/>
<rect x="1220" y="140" width="15" height="15" fill="#c8c8c8"/><text class="f" x="1221" y="149" font-size="5" fill="#333">eni</text>
</svg>
</body></html>
